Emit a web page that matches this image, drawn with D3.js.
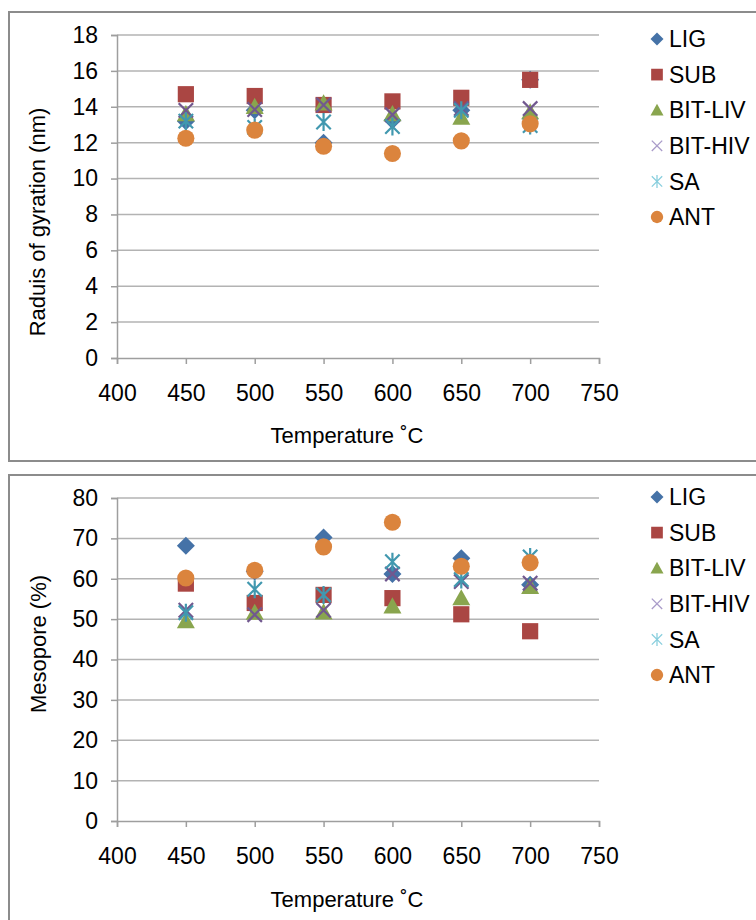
<!DOCTYPE html>
<html><head><meta charset="utf-8">
<script src="https://cdn.jsdelivr.net/npm/d3@7"></script>
<style>
body{margin:0;background:#fff;}
text{font-family:"Liberation Sans",Arial,sans-serif;fill:#000;}
</style></head>
<body><svg id="c" width="756" height="920"></svg>
<script>
const temperatures = [450, 500, 550, 600, 650, 700];
const seriesNames = ["LIG", "SUB", "BIT-LIV", "BIT-HIV", "SA", "ANT"];
const seriesColors = ["#4572A7", "#AA4643", "#89A54E", "#71588F", "#4198AF", "#DB843D"];
const legendColors = ["#4572A7", "#AA4643", "#89A54E", "#A99BC9", "#8ACFDE", "#DB843D"];
const seriesShapes = ["diamond", "square", "triangle", "x", "star", "circle"];

// Radius of gyration (nm)
const rgLIG    = [13.2, 13.8, 12.0, 13.25, 13.8, 15.5];
const rgSUB    = [14.7, 14.6, 14.1, 14.3, 14.5, 15.5];
const rgBITLIV = [13.6, 14.0, 14.2, 13.6, 13.4, 13.7];
const rgBITHIV = [13.8, 13.85, 14.1, 13.55, 13.9, 13.9];
const rgSA     = [13.2, 12.85, 13.15, 12.9, 13.8, 12.95];
const rgANT    = [12.25, 12.7, 11.8, 11.4, 12.1, 13.05];

// Mesopore (%)
const mpLIG    = [68.2, 61.8, 70.2, 61.2, 65.1, 58.5];
const mpSUB    = [58.8, 54.0, 56.0, 55.2, 51.2, 47.0];
const mpBITLIV = [49.5, 51.6, 51.7, 53.2, 55.2, 58.0];
const mpBITHIV = [52.2, 51.1, 52.2, 61.2, 59.3, 58.9];
const mpSA     = [51.6, 57.4, 56.0, 64.2, 59.8, 65.4];
const mpANT    = [60.2, 62.1, 67.9, 74.0, 63.1, 64.0];

const xTicks = [400, 450, 500, 550, 600, 650, 700, 750];
const rgTicks = [0, 2, 4, 6, 8, 10, 12, 14, 16, 18];
const mpTicks = [0, 10, 20, 30, 40, 50, 60, 70, 80];

const svg = d3.select("#c");

function markerPath(shape, s) {
  switch (shape) {
    case "diamond": return `M0,${-s}L${s},0L0,${s}L${-s},0Z`;
    case "square": { const h = s * 0.9; return `M${-h},${-h}H${h}V${h}H${-h}Z`; }
    case "triangle": return `M0,${-s}L${s},${s*0.8}L${-s},${s*0.8}Z`;
    case "x": { const h = s * 0.8; return `M${-h},${-h}L${h},${h}M${h},${-h}L${-h},${h}`; }
    case "star": { const h = s * 0.8; return `M${-h},${-h}L${h},${h}M${h},${-h}L${-h},${h}M0,${-s}L0,${s}`; }
    case "circle": { const r = s * 0.95; return `M${r},0A${r},${r},0,1,1,${-r},0A${r},${r},0,1,1,${r},0Z`; }
  }
}
function isLine(shape){ return shape === "x" || shape === "star"; }

function panel(cfg) {
  const g = svg.append("g");
  g.append("rect").attr("x", cfg.box[0]).attr("y", cfg.box[1])
    .attr("width", cfg.box[2]).attr("height", cfg.box[3])
    .attr("fill", "#fff").attr("stroke", "#8c8c8c").attr("stroke-width", 2);

  const x = d3.scaleLinear().domain([400, 750]).range([117, 599]);
  const y = d3.scaleLinear().domain(cfg.domain).range(cfg.yRange);

  g.append("g").selectAll("line").data(cfg.ticks.filter(t => t !== cfg.domain[0])).join("line")
    .attr("x1", 117).attr("x2", 599).attr("y1", d => y(d)).attr("y2", d => y(d))
    .attr("stroke", "#b3b3b3").attr("stroke-width", 1.5);

  const ya = g.append("g").attr("transform", "translate(117,0)")
    .call(d3.axisLeft(y).tickValues(cfg.ticks).tickSize(6).tickPadding(13).tickFormat(d3.format("d")));
  ya.select(".domain").attr("stroke", "#9e9e9e").attr("stroke-width", 1.5);
  ya.selectAll(".tick line").attr("stroke", "#9e9e9e").attr("stroke-width", 1.5);
  ya.selectAll(".tick text").attr("font-size", 23).attr("font-family", "Liberation Sans, Arial, sans-serif").attr("fill", "#000");

  const xa = g.append("g").attr("transform", `translate(0,${cfg.yRange[0]})`)
    .call(d3.axisBottom(x).tickValues(xTicks).tickSize(6).tickPadding(21).tickFormat(d3.format("d")));
  xa.select(".domain").attr("stroke", "#9e9e9e").attr("stroke-width", 1.5);
  xa.selectAll(".tick line").attr("stroke", "#9e9e9e").attr("stroke-width", 1.5);
  xa.selectAll(".tick text").attr("font-size", 23).attr("font-family", "Liberation Sans, Arial, sans-serif").attr("fill", "#000");

  g.append("text").attr("x", 347).attr("y", cfg.xTitleY).attr("text-anchor", "middle")
    .attr("font-size", 22).text("Temperature ˚C");
  g.append("text").attr("transform", `translate(${cfg.yTitleX},${cfg.yTitleY}) rotate(-90)`)
    .attr("text-anchor", "middle").attr("dy", "0.35em").attr("font-size", 22).text(cfg.yTitle);

  cfg.series.forEach((vals, i) => {
    const shape = seriesShapes[i];
    const col = seriesColors[i];
    g.append("g").selectAll("path").data(vals.map((v, j) => [temperatures[j], v])).join("path")
      .attr("transform", d => `translate(${x(d[0])},${y(d[1])})`)
      .attr("d", markerPath(shape, 9))
      .attr("fill", isLine(shape) ? "none" : col)
      .attr("stroke", isLine(shape) ? col : "none")
      .attr("stroke-width", isLine(shape) ? 2.2 : 0);
  });

  const lg = g.append("g");
  seriesNames.forEach((name, i) => {
    const ly = cfg.legendY + i * 35.6;
    const shape = seriesShapes[i];
    lg.append("path").attr("transform", `translate(657,${ly})`)
      .attr("d", markerPath(shape, 6.5))
      .attr("fill", isLine(shape) ? "none" : legendColors[i])
      .attr("stroke", isLine(shape) ? legendColors[i] : "none")
      .attr("stroke-width", isLine(shape) ? 1.3 : 0);
    lg.append("text").attr("x", 669).attr("y", ly).attr("dy", "0.36em")
      .attr("font-size", 23).text(name);
  });
}

panel({
  box: [9, 12, 760, 449],
  domain: [0, 18], yRange: [358, 35], ticks: rgTicks,
  series: [rgLIG, rgSUB, rgBITLIV, rgBITHIV, rgSA, rgANT],
  xTitleY: 443, yTitleX: 37, yTitleY: 222, yTitle: "Raduis of gyration (nm)",
  legendY: 39
});
panel({
  box: [9, 475, 760, 460],
  domain: [0, 80], yRange: [821, 498], ticks: mpTicks,
  series: [mpLIG, mpSUB, mpBITLIV, mpBITHIV, mpSA, mpANT],
  xTitleY: 907, yTitleX: 38, yTitleY: 644, yTitle: "Mesopore (%)",
  legendY: 497
});
</script></body></html>
